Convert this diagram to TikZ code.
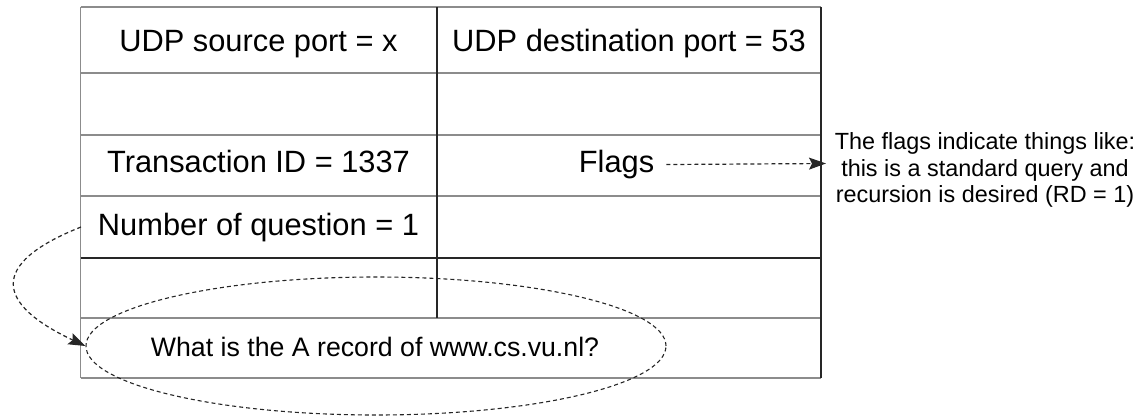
\documentclass[tikz,border=0pt]{standalone}
\usepackage{fontspec}
\setmainfont{Liberation Sans}
\usetikzlibrary{arrows.meta,shapes.geometric}
\begin{document}
\begin{tikzpicture}[x=1pt,y=-1pt,
  rule light/.style={draw=black!45, line width=1.5pt},
  rule dark/.style={draw=black!85, line width=1.3pt},
  field/.style={font=\fontsize{30.8}{36}\selectfont, inner sep=0pt, anchor=base},
  question/.style={font=\fontsize{26.7}{32}\selectfont, inner sep=0pt, anchor=base},
  note/.style={font=\fontsize{23.4}{26.2}\selectfont, align=center, inner sep=0pt},
  conn/.style={draw=black!85, line width=1.2pt, dash pattern=on 4pt off 3pt,
    -{Stealth[length=17pt,width=12pt,inset=3pt]}},
  ring/.style={ellipse, draw=black!85, line width=1.1pt, dash pattern=on 4pt off 3pt,
    inner sep=0pt, minimum width=580pt, minimum height=138pt}
]
\useasboundingbox (0,0) rectangle (1136,417);

% header table: light horizontal rules
\foreach \yy in {7,73,135,196,318,378}
  \draw[rule light] (80.5,\yy) -- (821,\yy);
\draw[rule light] (80.5,7) -- (80.5,378);
% darker rules
\draw[rule dark] (80.5,258) -- (821,258);
\draw[rule dark] (437,7) -- (437,318);
\draw[rule dark] (821,7) -- (821,378);

% field texts
\node[field] (srcport) at (258.5,52) {UDP source port = x};
\node[field] (dstport) at (629,52) {UDP destination port = 53};
\node[field] (txid) at (258.5,172.5) {Transaction ID = 1337};
\node[field] (flags) at (616.5,172.5) {Flags};
\node[field] (qcount) at (258.5,236) {Number of question = 1};
\node[question] (qtext) at (375,356) {What is the A record of www.cs.vu.nl?};

% annotation for the flags field
\node[note] (flagnote) at (985,170) {The flags indicate things like:\\
  this is a standard query and\\ recursion is desired (RD = 1)};

% dashed ring around the question
\node[ring] (qring) at (376,346) {};

% connectors
\coordinate (qtail) at (81,227);
\coordinate (flagtip) at (826,163.5);
\draw[conn] ([xshift=12pt]flags.east) -- (flagtip);
\draw[conn] (qtail) .. controls (-12,264) and (-4,304) .. (qring.west);
\end{tikzpicture}
\end{document}
